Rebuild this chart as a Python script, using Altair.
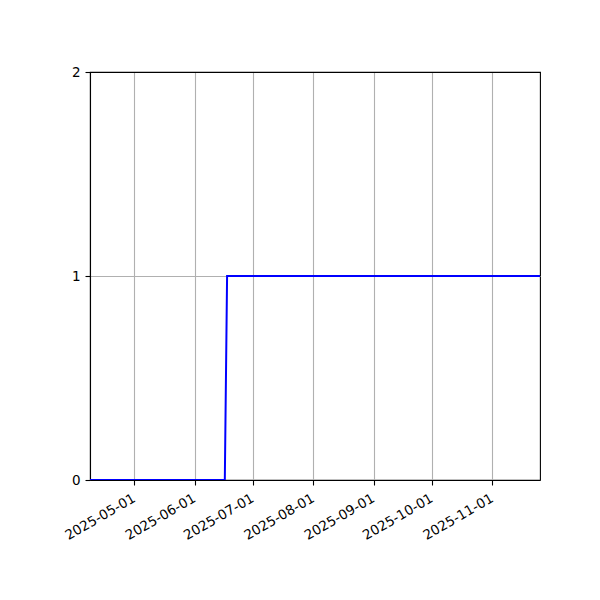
import pandas as pd
import altair as alt

# step series: breakpoints
dates = ["2025-04-08T05:00:00Z", "2025-06-16T12:00:00Z",
         "2025-06-17T16:00:00Z", "2025-11-25T12:00:00Z"]
values = [0, 0, 1, 1]

tick_months = [5, 6, 7, 8, 9, 10, 11]
y_ticks = [0, 1, 2]

source = pd.DataFrame({"date": dates, "value": values})

x_ticks = [alt.DateTime(year=2025, month=m, date=1, utc=True) for m in tick_months]

line = alt.Chart(source).mark_line(color="#0000ff", strokeWidth=2, clip=True).encode(
    x=alt.X("date:T",
            scale=alt.Scale(type="utc", domain=[dates[0], dates[-1]], nice=False),
            axis=alt.Axis(values=x_ticks, labelExpr="utcFormat(datum.value, '%Y-%m-%d')",
                          labelAngle=-30, labelAlign="right", labelBaseline="top",
                          labelOverlap=False, labelPadding=6, labelOffset=-4, title=None)),
    y=alt.Y("value:Q",
            scale=alt.Scale(domain=[y_ticks[0], y_ticks[-1]], nice=False),
            axis=alt.Axis(tickCount=len(y_ticks) - 1, tickMinStep=1, labelOverlap=False,
                          format="d", grid=True, title=None, labelPadding=5,
                          gridColor=alt.condition(f"datum.value == {y_ticks[-1]}",
                                                  alt.value("black"), alt.value("#b0b0b0")))),
)

chart = line.properties(
    width=450, height=408,
    autosize=alt.AutoSizeParams(type="none"),
    padding={"left": 82, "top": 64, "right": 50, "bottom": 100},
).configure_axis(
    grid=True, gridColor="#b0b0b0", gridWidth=1.1,
    domainColor="black", domainWidth=1.1,
    tickColor="black", tickSize=5, tickWidth=1.1,
    labelFont="DejaVu Sans", labelFontSize=13.5, labelColor="black",
).configure_view(stroke="black", strokeWidth=1.1)

chart.save("out.html", embed_options={"renderer": "svg", "actions": False})
